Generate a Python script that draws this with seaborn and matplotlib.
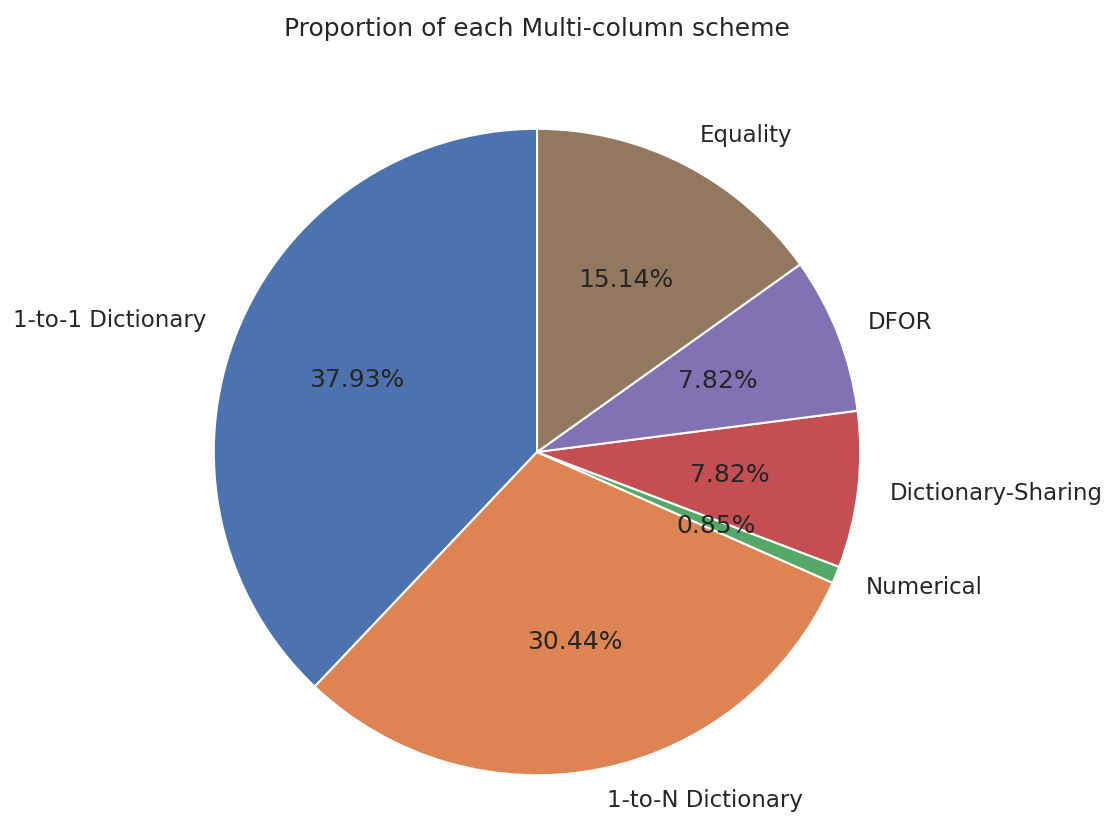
import matplotlib
matplotlib.use("Agg")
import matplotlib.pyplot as plt
import seaborn as sns

# Share of each multi-column compression scheme (percent)
schemes = ["1-to-1 Dictionary", "1-to-N Dictionary", "Numerical",
           "Dictionary-Sharing", "DFOR", "Equality"]
shares = [37.93, 30.44, 0.85, 7.82, 7.82, 15.14]

sns.set_theme(style="white")
colors = sns.color_palette("deep", len(schemes))

fig = plt.figure(figsize=(1115 / 150, 818 / 150), dpi=150)
ax = fig.add_axes([0.1193, -0.0465, 0.7247, 0.9878])

ax.pie(shares, labels=schemes, colors=colors, autopct="%.2f%%",
       startangle=90, counterclock=True,
       wedgeprops=dict(edgecolor="white", linewidth=1.0))
ax.set_xlim(-1.25, 1.25)
ax.set_ylim(-1.25, 1.25)
ax.set_aspect("equal")
ax.set_title("Proportion of each Multi-column scheme")

fig.savefig("out.png", dpi=150)
